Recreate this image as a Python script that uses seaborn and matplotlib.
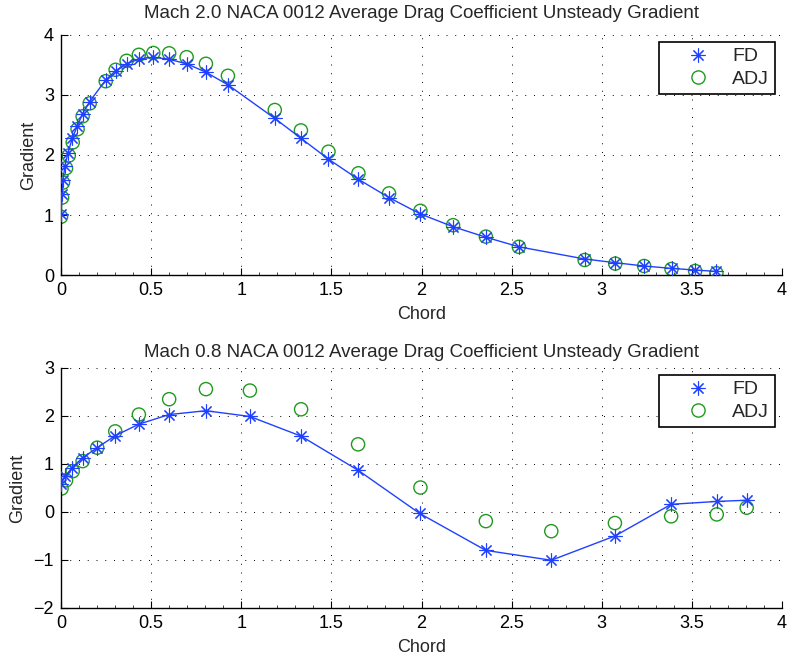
import numpy as np
import pandas as pd
import matplotlib
matplotlib.use("Agg")
import matplotlib.pyplot as plt
import seaborn as sns
from matplotlib.lines import Line2D
from matplotlib.ticker import MultipleLocator

# ---- Data: Mach 2.0 ----
m2_fd_x = [0.0, 0.006, 0.011, 0.022, 0.039, 0.063, 0.09, 0.12, 0.159, 0.248, 0.303, 0.364,
           0.432, 0.512, 0.60, 0.697, 0.804, 0.926, 1.186, 1.331, 1.484, 1.65, 1.82, 1.994,
           2.175, 2.357, 2.54, 2.905, 3.075, 3.235, 3.387, 3.518, 3.636]
m2_fd_y = [1.01, 1.345, 1.58, 1.82, 2.04, 2.28, 2.48, 2.69, 2.89, 3.25, 3.405, 3.52,
           3.60, 3.63, 3.595, 3.52, 3.38, 3.17, 2.61, 2.28, 1.93, 1.595, 1.29, 1.017,
           0.805, 0.63, 0.47, 0.267, 0.205, 0.15, 0.11, 0.083, 0.06]
m2_adj_x = [0.0, 0.006, 0.011, 0.028, 0.043, 0.065, 0.092, 0.12, 0.159, 0.248, 0.303, 0.364,
            0.432, 0.512, 0.60, 0.697, 0.804, 0.926, 1.186, 1.331, 1.484, 1.65, 1.82, 1.994,
            2.175, 2.357, 2.54, 2.905, 3.075, 3.235, 3.387, 3.518, 3.636]
m2_adj_y = [0.97, 1.29, 1.54, 1.78, 1.99, 2.21, 2.43, 2.645, 2.86, 3.23, 3.42, 3.57,
            3.67, 3.70, 3.695, 3.63, 3.52, 3.32, 2.75, 2.41, 2.055, 1.695, 1.36, 1.07,
            0.83, 0.64, 0.47, 0.25, 0.19, 0.15, 0.10, 0.067, 0.03]

# ---- Data: Mach 0.8 ----
m08_fd_x = [0.0, 0.024, 0.061, 0.12, 0.201, 0.301, 0.432, 0.60, 0.804, 1.048, 1.332, 1.648,
            1.99, 2.357, 2.72, 3.073, 3.385, 3.638, 3.804]
m08_fd_y = [0.59, 0.74, 0.925, 1.13, 1.34, 1.59, 1.83, 2.03, 2.11, 1.99, 1.58, 0.87,
            -0.03, -0.80, -1.005, -0.50, 0.16, 0.22, 0.245]
m08_adj_x = [0.003, 0.028, 0.065, 0.12, 0.201, 0.301, 0.432, 0.60, 0.804, 1.048, 1.332, 1.648,
             1.994, 2.357, 2.72, 3.073, 3.385, 3.638, 3.804]
m08_adj_y = [0.49, 0.66, 0.85, 1.06, 1.34, 1.68, 2.03, 2.35, 2.56, 2.53, 2.14, 1.41,
             0.51, -0.19, -0.40, -0.23, -0.09, -0.05, 0.09]

titles = ["Mach 2.0 NACA 0012 Average Drag Coefficient Unsteady Gradient",
          "Mach 0.8 NACA 0012 Average Drag Coefficient Unsteady Gradient"]
xlabel = "Chord"
ylabel = "Gradient"
legend_labels = ["FD", "ADJ"]

sns.set_style("white")
plt.rcParams['font.family'] = ['Liberation Sans', 'DejaVu Sans']
plt.rcParams['font.size'] = 13

FD_COLOR = "#2040ff"
ADJ_COLOR = "#1f9a1f"
AST = (8, 2, 0)

fig = plt.figure(figsize=(7.89, 6.58), dpi=100)
W, H = 789, 658
ax1 = fig.add_axes([61 / W, 1 - 275 / H, 721 / W, 240 / H])
ax2 = fig.add_axes([61 / W, 1 - 608 / H, 721 / W, 240 / H])

datasets = [
    (ax1, m2_fd_x, m2_fd_y, m2_adj_x, m2_adj_y, (0, 4), [0, 1, 2, 3, 4], titles[0], 12),
    (ax2, m08_fd_x, m08_fd_y, m08_adj_x, m08_adj_y, (-2, 3), [-2, -1, 0, 1, 2, 3], titles[1], 8),
]

for ax, fx, fy, axx, ay, ylim, yticks, title, tpad in datasets:
    fd = pd.DataFrame({"x": fx, "y": fy})
    adj = pd.DataFrame({"x": axx, "y": ay})
    sns.lineplot(data=fd, x="x", y="y", ax=ax, sort=False, color=FD_COLOR, lw=1.0,
                 marker=AST, markersize=10, markeredgewidth=0.8, markeredgecolor=FD_COLOR,
                 estimator=None, zorder=3)
    sns.scatterplot(data=adj, x="x", y="y", ax=ax, marker="o", s=90, facecolor="none",
                    edgecolor=ADJ_COLOR, linewidth=1.0, zorder=2)
    ax.set_xlim(0, 4)
    ax.set_ylim(*ylim)
    ax.set_xticks([0, 0.5, 1, 1.5, 2, 2.5, 3, 3.5, 4])
    ax.set_xticklabels(["0", "0.5", "1", "1.5", "2", "2.5", "3", "3.5", "4"])
    ax.set_yticks(yticks)
    ax.set_yticklabels([str(t).replace("-", "\u2212") for t in yticks])
    ax.xaxis.set_minor_locator(MultipleLocator(0.1))
    ax.tick_params(axis="both", which="major", direction="in", length=5, width=0.8,
                   labelsize=13, colors="black", bottom=True, left=True, pad=5)
    ax.tick_params(axis="x", which="minor", direction="in", length=2.5, width=0.6,
                   bottom=True)
    ax.grid(True, which="major", color="black", linestyle=(0, (1, 8)), linewidth=0.7)
    for s in ["top", "right"]:
        ax.spines[s].set_visible(False)
    for s in ["left", "bottom"]:
        ax.spines[s].set_color("black")
        ax.spines[s].set_linewidth(1.0)
    ax.set_xlabel(xlabel, fontsize=13, labelpad=5)
    ax.set_ylabel(ylabel, fontsize=13, labelpad=5)
    ax.set_title(title, fontsize=13.5, pad=tpad)
    handles = [
        Line2D([], [], linestyle="none", marker=AST, markersize=10, color=FD_COLOR,
               markeredgewidth=0.8),
        Line2D([], [], linestyle="none", marker="o", markersize=9.5, markerfacecolor="none",
               markeredgecolor=ADJ_COLOR, markeredgewidth=1.0),
    ]
    leg = ax.legend(
        handles, legend_labels, loc="upper right",
        bbox_to_anchor=(1 - 7 / 721, 1 - 7 / 240), borderaxespad=0,
        frameon=True, fancybox=False, edgecolor="black", fontsize=14,
        handlelength=3.4, handletextpad=0.05, borderpad=0.3, labelspacing=0.25)
    leg.get_frame().set_linewidth(1.2)
    leg.get_frame().set_alpha(1.0)

fig.savefig("out.png", dpi=100)
